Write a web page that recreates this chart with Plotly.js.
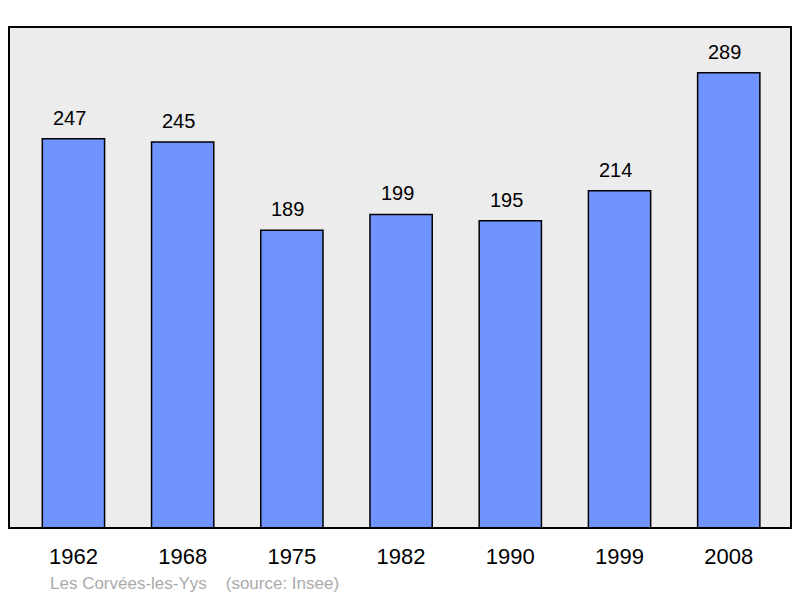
<!DOCTYPE html>
<html>
<head>
<meta charset="utf-8">
<script src="https://cdn.plot.ly/plotly-3.0.1.min.js"></script>
<style>
  body { margin: 0; background: #fff; }
  #chart { width: 800px; height: 598px; }
</style>
</head>
<body>
<div id="chart"></div>
<script>
// Population by census year
let years = ['1962', '1968', '1975', '1982', '1990', '1999', '2008'];
let population = [247, 245, 189, 199, 195, 214, 289];
let caption = 'Les Corvées-les-Yys\u00a0\u00a0\u00a0\u00a0(source: Insee)';

let xPos = years.map((y, i) => i);

let bars = {
    x: xPos,
    y: population,
    type: 'bar',
    width: 0.57,
    marker: {
        color: '#7094ff',
        line: { color: '#000', width: 1.5 }
    },
    hoverinfo: 'skip'
};

// Value labels above the bars
let annotations = [];
for (let i in population) {
    annotations.push({
        x: xPos[i],
        y: population[i],
        text: String(population[i]),
        showarrow: false,
        yanchor: 'bottom',
        yshift: 8,
        xshift: -4,
        font: { size: 20, color: '#000' }
    });
}
annotations.push({
    text: caption,
    showarrow: false,
    xref: 'paper',
    yref: 'paper',
    x: 0.05,
    xanchor: 'left',
    y: -0.11,
    yanchor: 'middle',
    font: { size: 17, color: '#aaaaaa' }
});

let layout = {
    width: 800,
    height: 598,
    showlegend: false,
    paper_bgcolor: '#fff',
    plot_bgcolor: '#ececec',
    font: { family: 'Liberation Sans, Arial, sans-serif', color: '#000' },
    margin: { l: 9, r: 9, t: 27, b: 70 },
    xaxis: {
        range: [-0.59, 6.57],
        tickvals: xPos,
        ticktext: years,
        ticks: 'outside',
        ticklen: 9,
        tickcolor: 'rgba(0,0,0,0)',
        tickfont: { size: 22 },
        showgrid: false,
        zeroline: false,
        showline: false,
        fixedrange: true
    },
    yaxis: {
        range: [0, 318],
        showgrid: false,
        zeroline: false,
        showline: false,
        showticklabels: false,
        fixedrange: true
    },
    shapes: [{
        type: 'rect',
        xref: 'paper',
        yref: 'paper',
        x0: 0, x1: 1, y0: 0, y1: 1,
        line: { color: '#000', width: 2 },
        layer: 'above'
    }],
    annotations: annotations
};

let config = { displayModeBar: false, staticPlot: true };

Plotly.newPlot('chart', [bars], layout, config);
</script>
</body>
</html>
